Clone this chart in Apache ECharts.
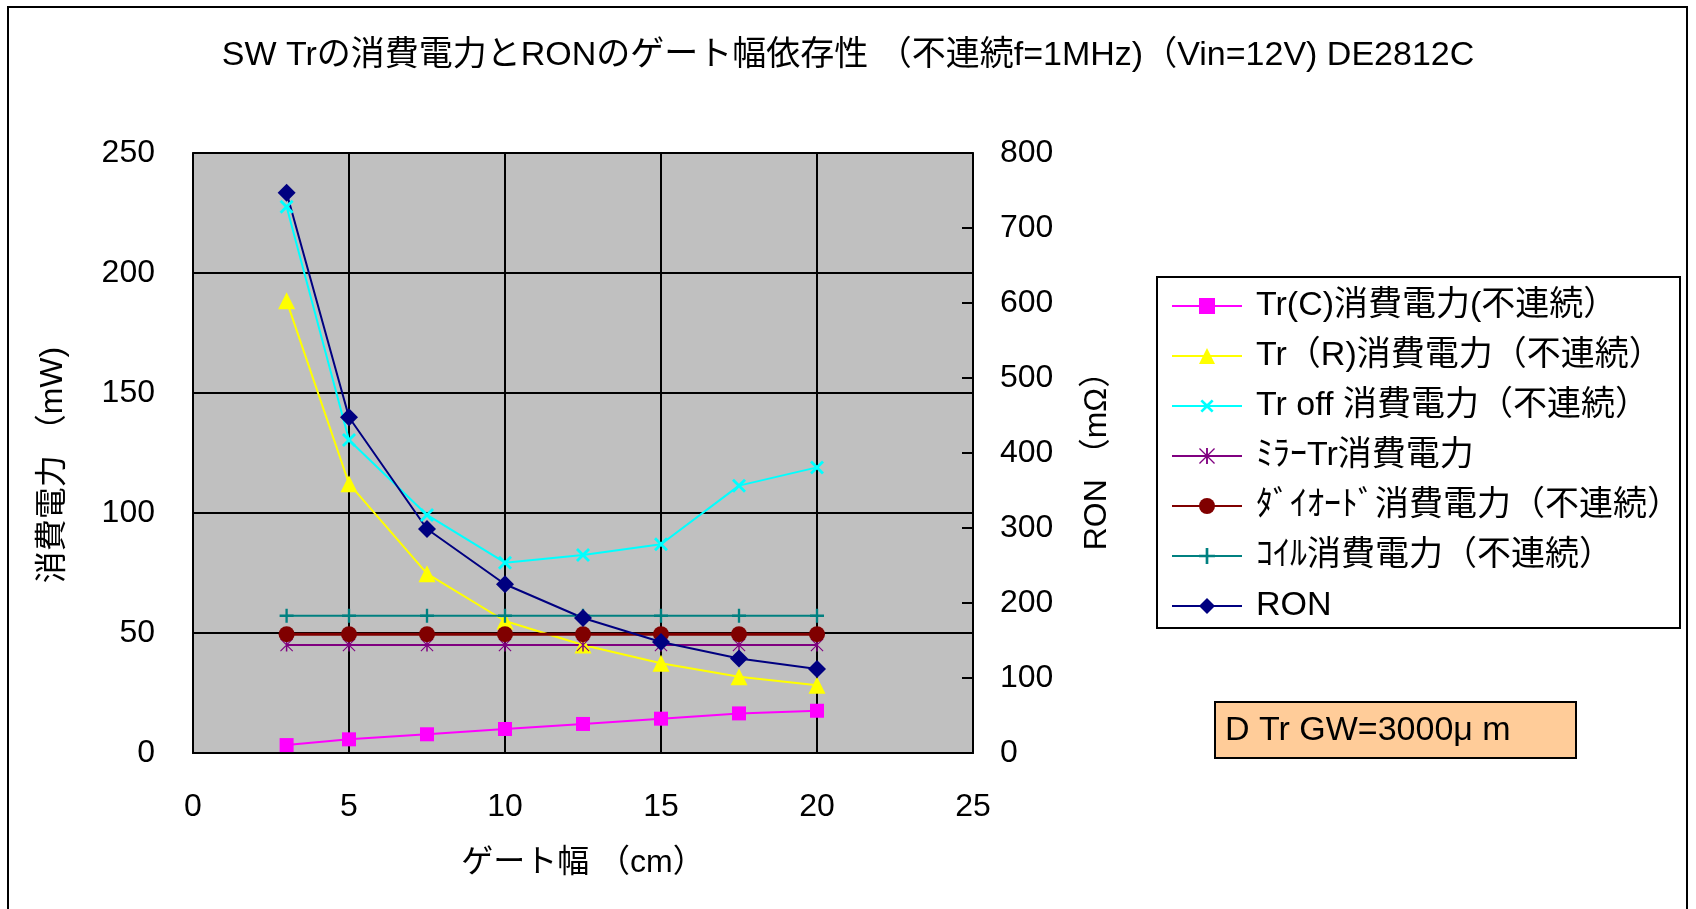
<!DOCTYPE html>
<html>
<head>
<meta charset="utf-8">
<script src="https://cdn.jsdelivr.net/npm/echarts@6/dist/echarts.min.js"></script>
<style>
html,body{margin:0;padding:0;background:#fff;}
#chart{width:1696px;height:909px;}
</style>
</head>
<body>
<div id="chart"></div>
<script>
const gateWidth = [3, 5, 7.5, 10, 12.5, 15, 17.5, 20];
const trC    = [3.3, 5.7, 7.8, 10.0, 12.1, 14.3, 16.5, 17.6];
const trR    = [188.4, 112.2, 74.7, 55.0, 45.0, 37.4, 31.8, 28.2];
const trOff  = [227.6, 130.4, 99.2, 79.3, 82.5, 87.0, 111.4, 119.0];
const mirror = [45, 45, 45, 45, 45, 45, 45, 45];
const diode  = [49.5, 49.5, 49.5, 49.5, 49.5, 49.5, 49.5, 49.5];
const coil   = [57.2, 57.2, 57.2, 57.2, 57.2, 57.2, 57.2, 57.2];
const ron    = [747, 447.6, 298.7, 225, 180, 148, 126, 112];

const seriesNames = [
  'Tr(C)消費電力(不連続）',
  'Tr（R)消費電力（不連続）',
  'Tr off 消費電力（不連続）',
  'ﾐﾗｰTr消費電力',
  'ﾀﾞｲｵｰﾄﾞ消費電力（不連続）',
  'ｺｲﾙ消費電力（不連続）',
  'RON'
];
const titleText = 'SW Trの消費電力とRONのゲート幅依存性 （不連続f=1MHz)（Vin=12V) DE2812C';
const xName = 'ゲート幅 （cm）';
const yLeftName = '消費電力 （mW)';
const yRightName = 'RON （mΩ）';
const noteText = 'D Tr GW=3000μ m';

const FF = "'Liberation Sans','Noto Sans CJK JP',sans-serif";
const pts = arr => gateWidth.map((x, i) => [x, arr[i]]);

const PLUS = 'path://M5,0H7V5H12V7H7V12H5V7H0V5H5Z';
const AST = 'path://M5.3,0H6.7V12H5.3Z M0.7,0L12,11.3L11.3,12L0,0.7Z M11.3,0L12,0.7L0.7,12L0,11.3Z';

function mk(name, data, color, symbol, size, yIdx, rot, lw) {
  return {
    name: name, type: 'line', data: pts(data), yAxisIndex: yIdx,
    symbol: symbol, symbolSize: size, symbolRotate: rot || 0, showSymbol: true,
    lineStyle: {color: color, width: lw || 2},
    itemStyle: {color: color},
    emphasis: {disabled: true}
  };
}

const chart = echarts.init(document.getElementById('chart'));
chart.setOption({
  animation: false,
  backgroundColor: '#fff',
  title: {
    text: titleText, left: 'center', top: 36, padding: 0,
    textStyle: {fontFamily: FF, fontSize: 34, fontWeight: 'normal', color: '#000', lineHeight: 40}
  },
  graphic: [
    {type: 'rect', shape: {x: 8, y: 7, width: 1679, height: 1000}, style: {fill: 'none', stroke: '#000', lineWidth: 2}, silent: true},
    {type: 'rect', shape: {x: 1157, y: 277, width: 523, height: 351}, style: {fill: '#fff', stroke: '#000', lineWidth: 2}, silent: true, z: -1},
    {type: 'rect', shape: {x: 1215, y: 702, width: 361, height: 56}, style: {fill: '#FFCC99', stroke: '#000', lineWidth: 2}, silent: true},
    {type: 'text', x: 1225, y: 731, style: {text: noteText, fontFamily: FF, fontSize: 34, fill: '#000', verticalAlign: 'middle'}, silent: true}
  ],
  legend: {
    orient: 'vertical', left: 1171, top: 288, padding: 0,
    itemWidth: 70, itemHeight: 20, itemGap: 14,
    textStyle: {fontFamily: FF, fontSize: 34, color: '#000', lineHeight: 36, padding: [0, 0, 0, 9]},
    data: seriesNames, selectedMode: false
  },
  grid: {
    left: 193, top: 153, width: 780, height: 600,
    show: true, backgroundColor: '#C0C0C0', borderColor: '#808080', borderWidth: 2
  },
  xAxis: {
    type: 'value', min: 0, max: 25, interval: 5,
    name: xName, nameLocation: 'middle', nameGap: 94,
    nameTextStyle: {fontFamily: FF, fontSize: 32, color: '#000'},
    axisLine: {show: true, lineStyle: {color: '#000', width: 2}},
    axisTick: {show: false},
    axisLabel: {fontFamily: FF, fontSize: 32, color: '#000', margin: 38},
    splitLine: {show: true, lineStyle: {color: '#000', width: 2}}
  },
  yAxis: [
    {
      type: 'value', min: 0, max: 250, interval: 50, position: 'left',
      name: yLeftName, nameLocation: 'middle', nameGap: 124,
      nameTextStyle: {fontFamily: FF, fontSize: 32, color: '#000', padding: [0, 24, 0, 0]},
      axisLine: {show: true, lineStyle: {color: '#000', width: 2}},
      axisTick: {show: true, inside: true, length: 9, lineStyle: {color: '#000', width: 2}},
      axisLabel: {fontFamily: FF, fontSize: 32, color: '#000', margin: 38},
      splitLine: {show: true, lineStyle: {color: '#000', width: 2}}
    },
    {
      type: 'value', min: 0, max: 800, interval: 100, position: 'right',
      name: yRightName, nameLocation: 'middle', nameGap: 108,
      nameTextStyle: {fontFamily: FF, fontSize: 32, color: '#000'},
      axisLine: {show: true, lineStyle: {color: '#000', width: 2}},
      axisTick: {show: true, inside: true, length: 11, lineStyle: {color: '#000', width: 2}},
      axisLabel: {fontFamily: FF, fontSize: 32, color: '#000', margin: 27},
      splitLine: {show: false}
    }
  ],
  series: [
    mk(seriesNames[0], trC, '#FF00FF', 'rect', 14, 0),
    mk(seriesNames[1], trR, '#FFFF00', 'triangle', 17, 0),
    mk(seriesNames[2], trOff, '#00FFFF', PLUS, 17, 0, 45),
    mk(seriesNames[3], mirror, '#800080', AST, 13, 0),
    mk(seriesNames[4], diode, '#800000', 'circle', 16, 0, 0, 3),
    mk(seriesNames[5], coil, '#008080', PLUS, 14, 0),
    mk(seriesNames[6], ron, '#000080', 'diamond', 18, 1)
  ]
});
</script>
</body>
</html>
